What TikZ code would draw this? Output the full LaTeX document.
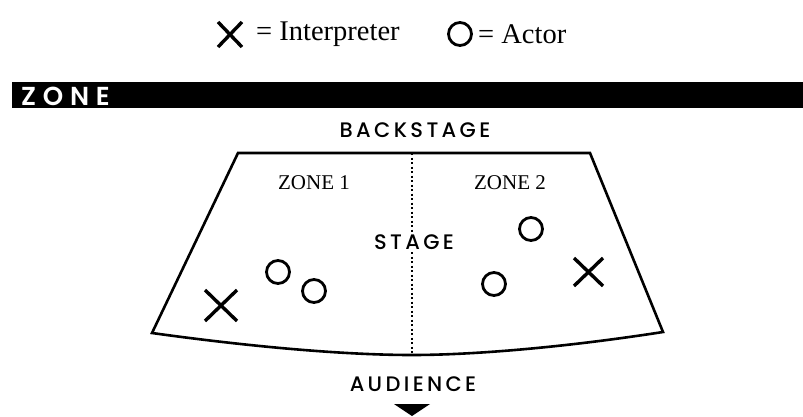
\documentclass[tikz,border=0pt]{standalone}
\usepackage{fontspec}
\setmainfont{Liberation Serif}
\newfontfamily\geo[LetterSpace=16]{Poppins Medium}
\newfontfamily\geobold[LetterSpace=26]{Poppins SemiBold}
\begin{document}
\begin{tikzpicture}[x=1pt,y=-1pt,
  cross/.style={line width=3.4pt},
  actor/.style={circle,draw,line width=2.8pt,minimum size=23pt,inner sep=0pt},
  caplabel/.style={font=\geo\fontsize{21}{21}\selectfont,inner sep=0pt},
  zonelabel/.style={font=\fontsize{21}{21}\selectfont,inner sep=0pt},
  legendtext/.style={font=\fontsize{28.5}{28.5}\selectfont,inner sep=0pt,anchor=west}]
\useasboundingbox (0,0) rectangle (803,416);

% legend
\draw[cross] (218,22) -- (242,47) (218,47) -- (242,22);
\node[legendtext] (lint) at (256,34) {= Interpreter};
\node[actor] (lact) at (460,34) {};
\node[legendtext] (lacttxt) at (478,34) {= Actor};

% section header bar
\fill (12,82) rectangle (803,108);
\node[font=\geobold\fontsize{26}{26}\selectfont,text=white,anchor=west,inner sep=0pt] (zone) at (21,96) {ZONE};

% stage outline
\coordinate (tl) at (238,153);
\coordinate (tr) at (590,153);
\coordinate (br) at (663,332);
\coordinate (bl) at (152,333);
\coordinate (bm) at (412,355);
\coordinate (tm) at (412,153);
\draw[line width=2.6pt,line join=miter] (bl) -- (tl) -- (tr) -- (br)
  .. controls (560,348) and (470,355) .. (bm)
  .. controls (350,355) and (260,348) .. (bl) -- cycle;
\draw[line width=1.8pt,dash pattern=on 2pt off 2.5pt] (tm) -- (bm);

% labels
\node[caplabel] (back) at (415,130) {BACKSTAGE};
\node[zonelabel] (z1) at (314,183) {ZONE 1};
\node[zonelabel] (z2) at (510,183) {ZONE 2};
\node[caplabel,fill=white,inner sep=1pt] (stage) at (414,242) {STAGE};
\node[caplabel] (aud) at (413,384) {AUDIENCE};

% performers
\node[actor] (a1) at (278,272) {};
\node[actor] (a2) at (314,291) {};
\node[actor] (a3) at (531,229) {};
\node[actor] (a4) at (494,284) {};
\draw[cross] (205,290) -- (237,321) (205,321) -- (237,290);
\draw[cross] (574,258) -- (603,286) (574,286) -- (603,258);

% audience direction marker
\fill (394,404) -- (430,404) -- (412,416) -- cycle;
\end{tikzpicture}
\end{document}
